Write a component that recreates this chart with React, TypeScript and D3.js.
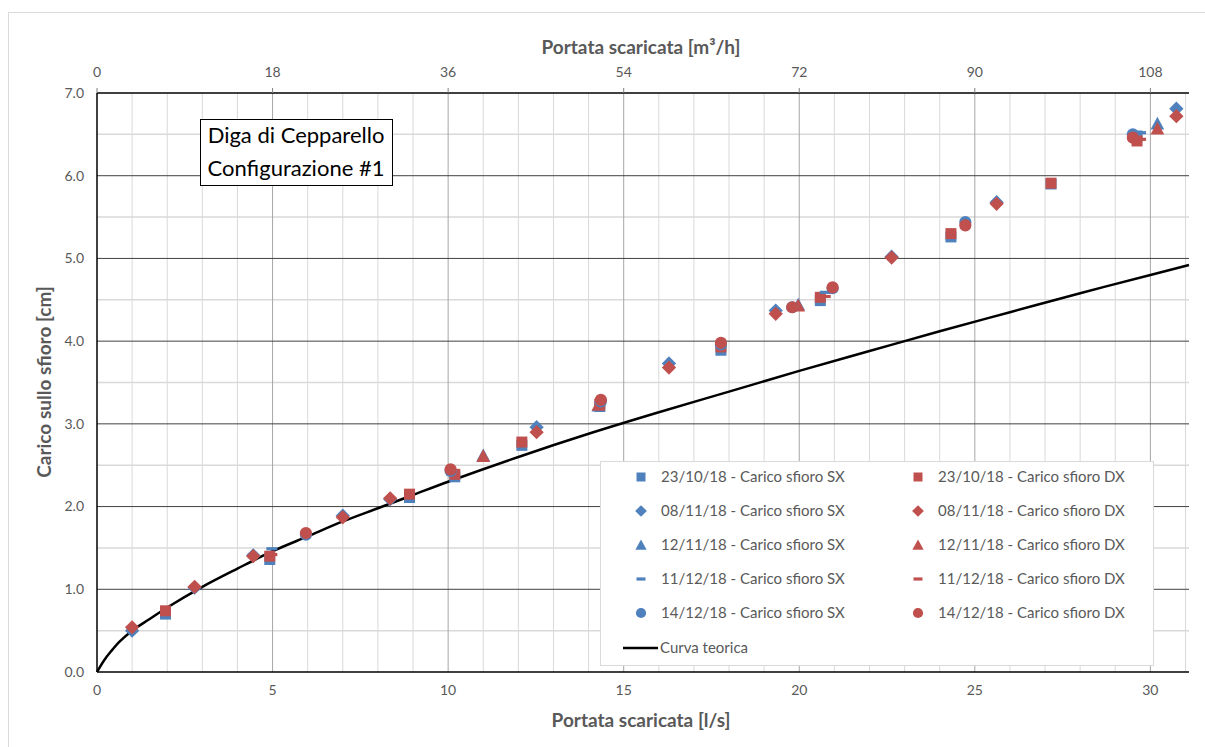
import { useRef, useEffect } from "react";
import * as d3 from "d3";

// portata [l/s] / carico [cm]
const sq1Q = [1.95, 4.92, 8.9, 10.19, 12.1, 14.32, 17.77, 20.6, 24.32, 27.17, 29.62];
const sq1SX = [0.7, 1.36, 2.11, 2.36, 2.74, 3.21, 3.89, 4.49, 5.26, 5.9, 6.48];
const sq1DX = [0.74, 1.4, 2.15, 2.39, 2.78, 3.24, 3.93, 4.53, 5.3, 5.91, 6.42];

const di2Q = [1.0, 2.78, 4.45, 7.0, 8.35, 12.52, 16.29, 19.33, 22.63, 25.62, 30.74];
const di2SX = [0.5, 1.02, 1.41, 1.89, 2.09, 2.96, 3.73, 4.37, 5.02, 5.68, 6.81];
const di2DX = [0.54, 1.03, 1.4, 1.87, 2.1, 2.9, 3.68, 4.33, 5.01, 5.66, 6.72];

const tr3Q = [11.0, 14.28, 19.97, 30.2];
const tr3SX = [2.62, 3.22, 4.44, 6.63];
const tr3DX = [2.61, 3.23, 4.43, 6.57];

const da4Q = [4.98, 20.74, 29.72];
const da4SX = [1.49, 4.59, 6.52];
const da4DX = [1.42, 4.54, 6.44];

const ci5Q = [5.95, 10.07, 14.35, 17.77, 19.8, 20.95, 24.73, 29.5];
const ci5SX = [1.66, 2.43, 3.27, 3.96, 4.41, 4.64, 5.44, 6.5];
const ci5DX = [1.68, 2.45, 3.29, 3.98, 4.41, 4.65, 5.4, 6.46];

const curveQ = [0, 0.2, 0.4, 0.65, 1, 1.5, 2, 3, 4, 5, 6, 7, 8, 9, 10, 12, 14, 16, 18, 20, 22, 24, 26, 28, 30, 31.1];
const curveH = [0, 0.14, 0.25, 0.37, 0.5, 0.64, 0.78, 1.03, 1.25, 1.46, 1.64, 1.82, 1.98, 2.14, 2.3, 2.6, 2.88, 3.14, 3.39, 3.64, 3.88, 4.12, 4.35, 4.58, 4.8, 4.92];

const yTicks = [0, 1, 2, 3, 4, 5, 6, 7];
const xTicks = [0, 5, 10, 15, 20, 25, 30];
const x2Ticks = [0, 18, 36, 54, 72, 90, 108];

const BLUE = "#4f81bd";
const RED = "#c0504d";
const FONT = "Lato, 'Liberation Sans', sans-serif";

function markerPath(kind, s) {
  if (kind === "square") return `M${-s},${-s}H${s}V${s}H${-s}Z`;
  if (kind === "diamond") {
    const d = s * 1.3;
    return `M0,${-d}L${d},0L0,${d}L${-d},0Z`;
  }
  if (kind === "triangle") {
    const d = s * 1.25;
    return `M0,${-d}L${d},${d * 0.85}L${-d},${d * 0.85}Z`;
  }
  if (kind === "dash") return `M${-s},-1.6H${s}V1.6H${-s}Z`;
  return d3.symbol(d3.symbolCircle, Math.PI * (s + 0.6) * (s + 0.6))();
}

const series = [
  { label: "23/10/18 - Carico sfioro SX", q: sq1Q, h: sq1SX, color: BLUE, kind: "square" },
  { label: "23/10/18 - Carico sfioro DX", q: sq1Q, h: sq1DX, color: RED, kind: "square" },
  { label: "08/11/18 - Carico sfioro SX", q: di2Q, h: di2SX, color: BLUE, kind: "diamond" },
  { label: "08/11/18 - Carico sfioro DX", q: di2Q, h: di2DX, color: RED, kind: "diamond" },
  { label: "12/11/18 - Carico sfioro SX", q: tr3Q, h: tr3SX, color: BLUE, kind: "triangle" },
  { label: "12/11/18 - Carico sfioro DX", q: tr3Q, h: tr3DX, color: RED, kind: "triangle" },
  { label: "11/12/18 - Carico sfioro SX", q: da4Q, h: da4SX, color: BLUE, kind: "dash" },
  { label: "11/12/18 - Carico sfioro DX", q: da4Q, h: da4DX, color: RED, kind: "dash" },
  { label: "14/12/18 - Carico sfioro SX", q: ci5Q, h: ci5SX, color: BLUE, kind: "circle" },
  { label: "14/12/18 - Carico sfioro DX", q: ci5Q, h: ci5DX, color: RED, kind: "circle" },
];

function App() {
  const svgRef = useRef(null);

  useEffect(() => {
    const W = 1205;
    const H = 747;
    const left = 97, right = 1189, top = 93, bottom = 672;
    const svg = d3.select(svgRef.current).attr("width", W).attr("height", H);
    svg.selectAll("*").remove();

    svg.append("rect").attr("width", W).attr("height", H).attr("fill", "#fff");
    svg.append("rect")
      .attr("x", 8.5).attr("y", 12.5).attr("width", W).attr("height", H)
      .attr("fill", "none").attr("stroke", "#d9d9d9");

    const x = d3.scaleLinear().domain([0, 31.1]).range([left, right]);
    const x2 = d3.scaleLinear().domain([0, 31.1 * 3.6]).range([left, right]);
    const y = d3.scaleLinear().domain([0, 7]).range([bottom, top]);

    const grid = svg.append("g");
    // minor grid
    d3.range(1, 32).filter((v) => v % 5 !== 0).forEach((v) => {
      grid.append("line").attr("x1", x(v)).attr("x2", x(v)).attr("y1", top).attr("y2", bottom)
        .attr("stroke", "#d9d9d9").attr("stroke-width", 1);
    });
    d3.range(0.5, 7, 1).forEach((v) => {
      grid.append("line").attr("x1", left).attr("x2", right).attr("y1", y(v)).attr("y2", y(v))
        .attr("stroke", "#d9d9d9").attr("stroke-width", 1.5);
    });
    // major grid
    xTicks.slice(1).forEach((v) => {
      grid.append("line").attr("x1", x(v)).attr("x2", x(v)).attr("y1", top).attr("y2", bottom)
        .attr("stroke", "#a6a6a6").attr("stroke-width", 1);
    });
    yTicks.slice(1, -1).forEach((v) => {
      grid.append("line").attr("x1", left).attr("x2", right).attr("y1", y(v)).attr("y2", y(v))
        .attr("stroke", "#404040").attr("stroke-width", 1);
    });

    // axes lines
    const ax = svg.append("g").attr("stroke", "#000").attr("stroke-width", 1.5);
    ax.append("line").attr("x1", left).attr("x2", right).attr("y1", bottom).attr("y2", bottom);
    ax.append("line").attr("x1", left).attr("x2", right).attr("y1", top).attr("y2", top);
    ax.append("line").attr("x1", left).attr("x2", left).attr("y1", top).attr("y2", bottom);
    x2Ticks.forEach((v) => {
      svg.append("line").attr("x1", x2(v)).attr("x2", x2(v)).attr("y1", top - 5).attr("y2", top)
        .attr("stroke", "#808080").attr("stroke-width", 1);
    });

    const lab = svg.append("g").attr("font-family", FONT).attr("fill", "#595959").attr("font-size", 14);
    yTicks.forEach((v) => {
      lab.append("text").attr("x", 84).attr("y", y(v)).attr("dy", "0.35em")
        .attr("text-anchor", "end").text(v.toFixed(1));
    });
    xTicks.forEach((v) => {
      lab.append("text").attr("x", x(v)).attr("y", bottom + 23)
        .attr("text-anchor", "middle").text(v);
    });
    x2Ticks.forEach((v) => {
      lab.append("text").attr("x", x2(v)).attr("y", top - 16)
        .attr("text-anchor", "middle").text(v);
    });

    const ttl = svg.append("g").attr("font-family", FONT).attr("fill", "#595959")
      .attr("font-size", 19).attr("font-weight", "bold").attr("text-anchor", "middle");
    ttl.append("text").attr("x", 641).attr("y", 54).text("Portata scaricata [m³/h]");
    ttl.append("text").attr("x", 641).attr("y", 727).text("Portata scaricata [l/s]");
    ttl.append("text").attr("transform", `translate(51,382) rotate(-90)`).text("Carico sullo sfioro [cm]");

    // theoretical curve
    const line = d3.line().x((d) => x(d[0])).y((d) => y(d[1])).curve(d3.curveCatmullRom);
    svg.append("path").datum(curveQ.map((q, i) => [q, curveH[i]]))
      .attr("d", line).attr("fill", "none").attr("stroke", "#000").attr("stroke-width", 2.5);

    // data points
    series.forEach((s) => {
      svg.append("g").selectAll("path").data(s.q.map((q, i) => [q, s.h[i]])).join("path")
        .attr("transform", (d) => `translate(${x(d[0])},${y(d[1])})`)
        .attr("d", markerPath(s.kind, 5.5))
        .attr("fill", s.color);
    });

    // title box
    const tb = svg.append("g");
    tb.append("rect").attr("x", 200.5).attr("y", 119.5).attr("width", 192).attr("height", 66)
      .attr("fill", "#fff").attr("stroke", "#000").attr("stroke-width", 1);
    tb.append("text").attr("x", 296).attr("y", 143).attr("text-anchor", "middle")
      .attr("font-family", FONT).attr("font-size", 22).attr("fill", "#000").text("Diga di Cepparello");
    tb.append("text").attr("x", 296).attr("y", 176).attr("text-anchor", "middle")
      .attr("font-family", FONT).attr("font-size", 22).attr("fill", "#000").text("Configurazione #1");

    // legend
    const lg = svg.append("g");
    lg.append("rect").attr("x", 600.5).attr("y", 461.5).attr("width", 553).attr("height", 204)
      .attr("fill", "#fff").attr("stroke", "#d9d9d9");
    const rowY = [477, 511, 545, 579, 613];
    series.forEach((s, i) => {
      const col = i % 2;
      const row = Math.floor(i / 2);
      const mx = col === 0 ? 641 : 918;
      lg.append("path").attr("transform", `translate(${mx},${rowY[row]})`)
        .attr("d", markerPath(s.kind, 4.5)).attr("fill", s.color);
      lg.append("text").attr("x", mx + 20).attr("y", rowY[row]).attr("dy", "0.35em")
        .attr("font-family", FONT).attr("font-size", 15).attr("fill", "#595959").text(s.label);
    });
    lg.append("line").attr("x1", 623).attr("x2", 658).attr("y1", 648).attr("y2", 648)
      .attr("stroke", "#000").attr("stroke-width", 2.5);
    lg.append("text").attr("x", 660).attr("y", 648).attr("dy", "0.35em")
      .attr("font-family", FONT).attr("font-size", 15).attr("fill", "#595959").text("Curva teorica");
  }, []);

  return <svg ref={svgRef} style={{ position: "absolute", left: 0, top: 0 }}></svg>;
}

export default App;
